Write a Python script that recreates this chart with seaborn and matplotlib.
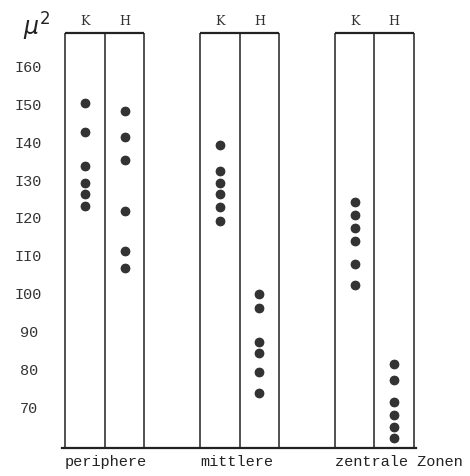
import matplotlib
matplotlib.use("Agg")
import matplotlib.pyplot as plt
import seaborn as sns
import pandas as pd

zones = ["periphere", "mittlere", "zentrale Zonen"]
cells = ["K", "H"]
periphere_K = [150, 142.5, 133.5, 129, 126, 123]
periphere_H = [148, 141, 135, 121.5, 111, 106.5]
mittlere_K = [139, 132, 129, 126, 122.5, 119]
mittlere_H = [99.5, 96, 87, 84, 79, 73.5]
zentrale_K = [124, 120.5, 117, 113.5, 107.5, 102]
zentrale_H = [81, 77, 71, 67.5, 64.5, 61.5]
y_ticks = [70, 80, 90, 100, 110, 120, 130, 140, 150, 160]
y_ticklabels = ["70", "80", "90", "I00", "II0", "I20", "I30", "I40", "I50", "I60"]

series = {
    ("periphere", "K"): periphere_K, ("periphere", "H"): periphere_H,
    ("mittlere", "K"): mittlere_K, ("mittlere", "H"): mittlere_H,
    ("zentrale Zonen", "K"): zentrale_K, ("zentrale Zonen", "H"): zentrale_H,
}

# layout: each column is 1 unit wide, groups start 3.4 units apart
group_left = {z: i * 3.4 for i, z in enumerate(zones)}
rows = []
for (zone, cell), vals in series.items():
    for v in vals:
        rows.append({"zone": zone, "cell": cell, "value": v,
                     "xpos": group_left[zone] + cells.index(cell) + 0.5})
df = pd.DataFrame(rows)

sns.set_style("white")
plt.rcParams["font.family"] = ["Liberation Mono", "DejaVu Sans Mono"]

W, H = 470, 477
fig = plt.figure(figsize=(W / 100, H / 100), dpi=100)
ax = fig.add_axes([62 / W, (H - 449) / H, (416 - 62) / W, (449 - 34) / H])

ymin, ymax = 58.9, 168.6
sns.scatterplot(data=df, x="xpos", y="value", ax=ax, color="#333333",
                s=42, edgecolor="#222222", linewidth=0.5, legend=False, zorder=3)

# column boxes
for zone in zones:
    x0 = group_left[zone]
    ax.vlines([x0, x0 + 1, x0 + 2], ymin, ymax, color="#222222", lw=1.1)
    ax.hlines(ymax, x0, x0 + 2, color="#222222", lw=1.6, clip_on=False)
    for j, c in enumerate(cells):
        ax.annotate(c, (x0 + j + 0.5, 1.0), xycoords=ax.get_xaxis_transform(),
                    xytext=(0, 4), textcoords="offset points",
                    ha="center", va="bottom", fontsize=9, color="#333333",
                    fontfamily="DejaVu Serif")

ax.set_xlim(-0.08, 8.85)
ax.set_ylim(ymin, ymax)

ax.set_yticks(y_ticks)
ax.set_yticklabels(y_ticklabels, fontsize=11, color="#333333")
for lab in ax.get_yticklabels():
    lab.set_horizontalalignment("center")
ax.tick_params(axis="y", length=0, pad=24)

ax.set_xticks([group_left[z] for z in zones])
ax.set_xticklabels(zones, fontsize=11, color="#222222")
for lab in ax.get_xticklabels():
    lab.set_horizontalalignment("left")
ax.tick_params(axis="x", length=0, pad=4)

ax.set_xlabel("")
ax.set_ylabel("")
for side in ["top", "right", "left"]:
    ax.spines[side].set_visible(False)
ax.spines["bottom"].set_linewidth(1.6)
ax.spines["bottom"].set_color("#222222")

fig.text(37 / W, 1 - 27 / H, r"$\mu^2$", fontsize=17, ha="center", va="center",
         color="#222222", fontfamily="DejaVu Serif")

fig.savefig("out.png", dpi=100, facecolor="white")
